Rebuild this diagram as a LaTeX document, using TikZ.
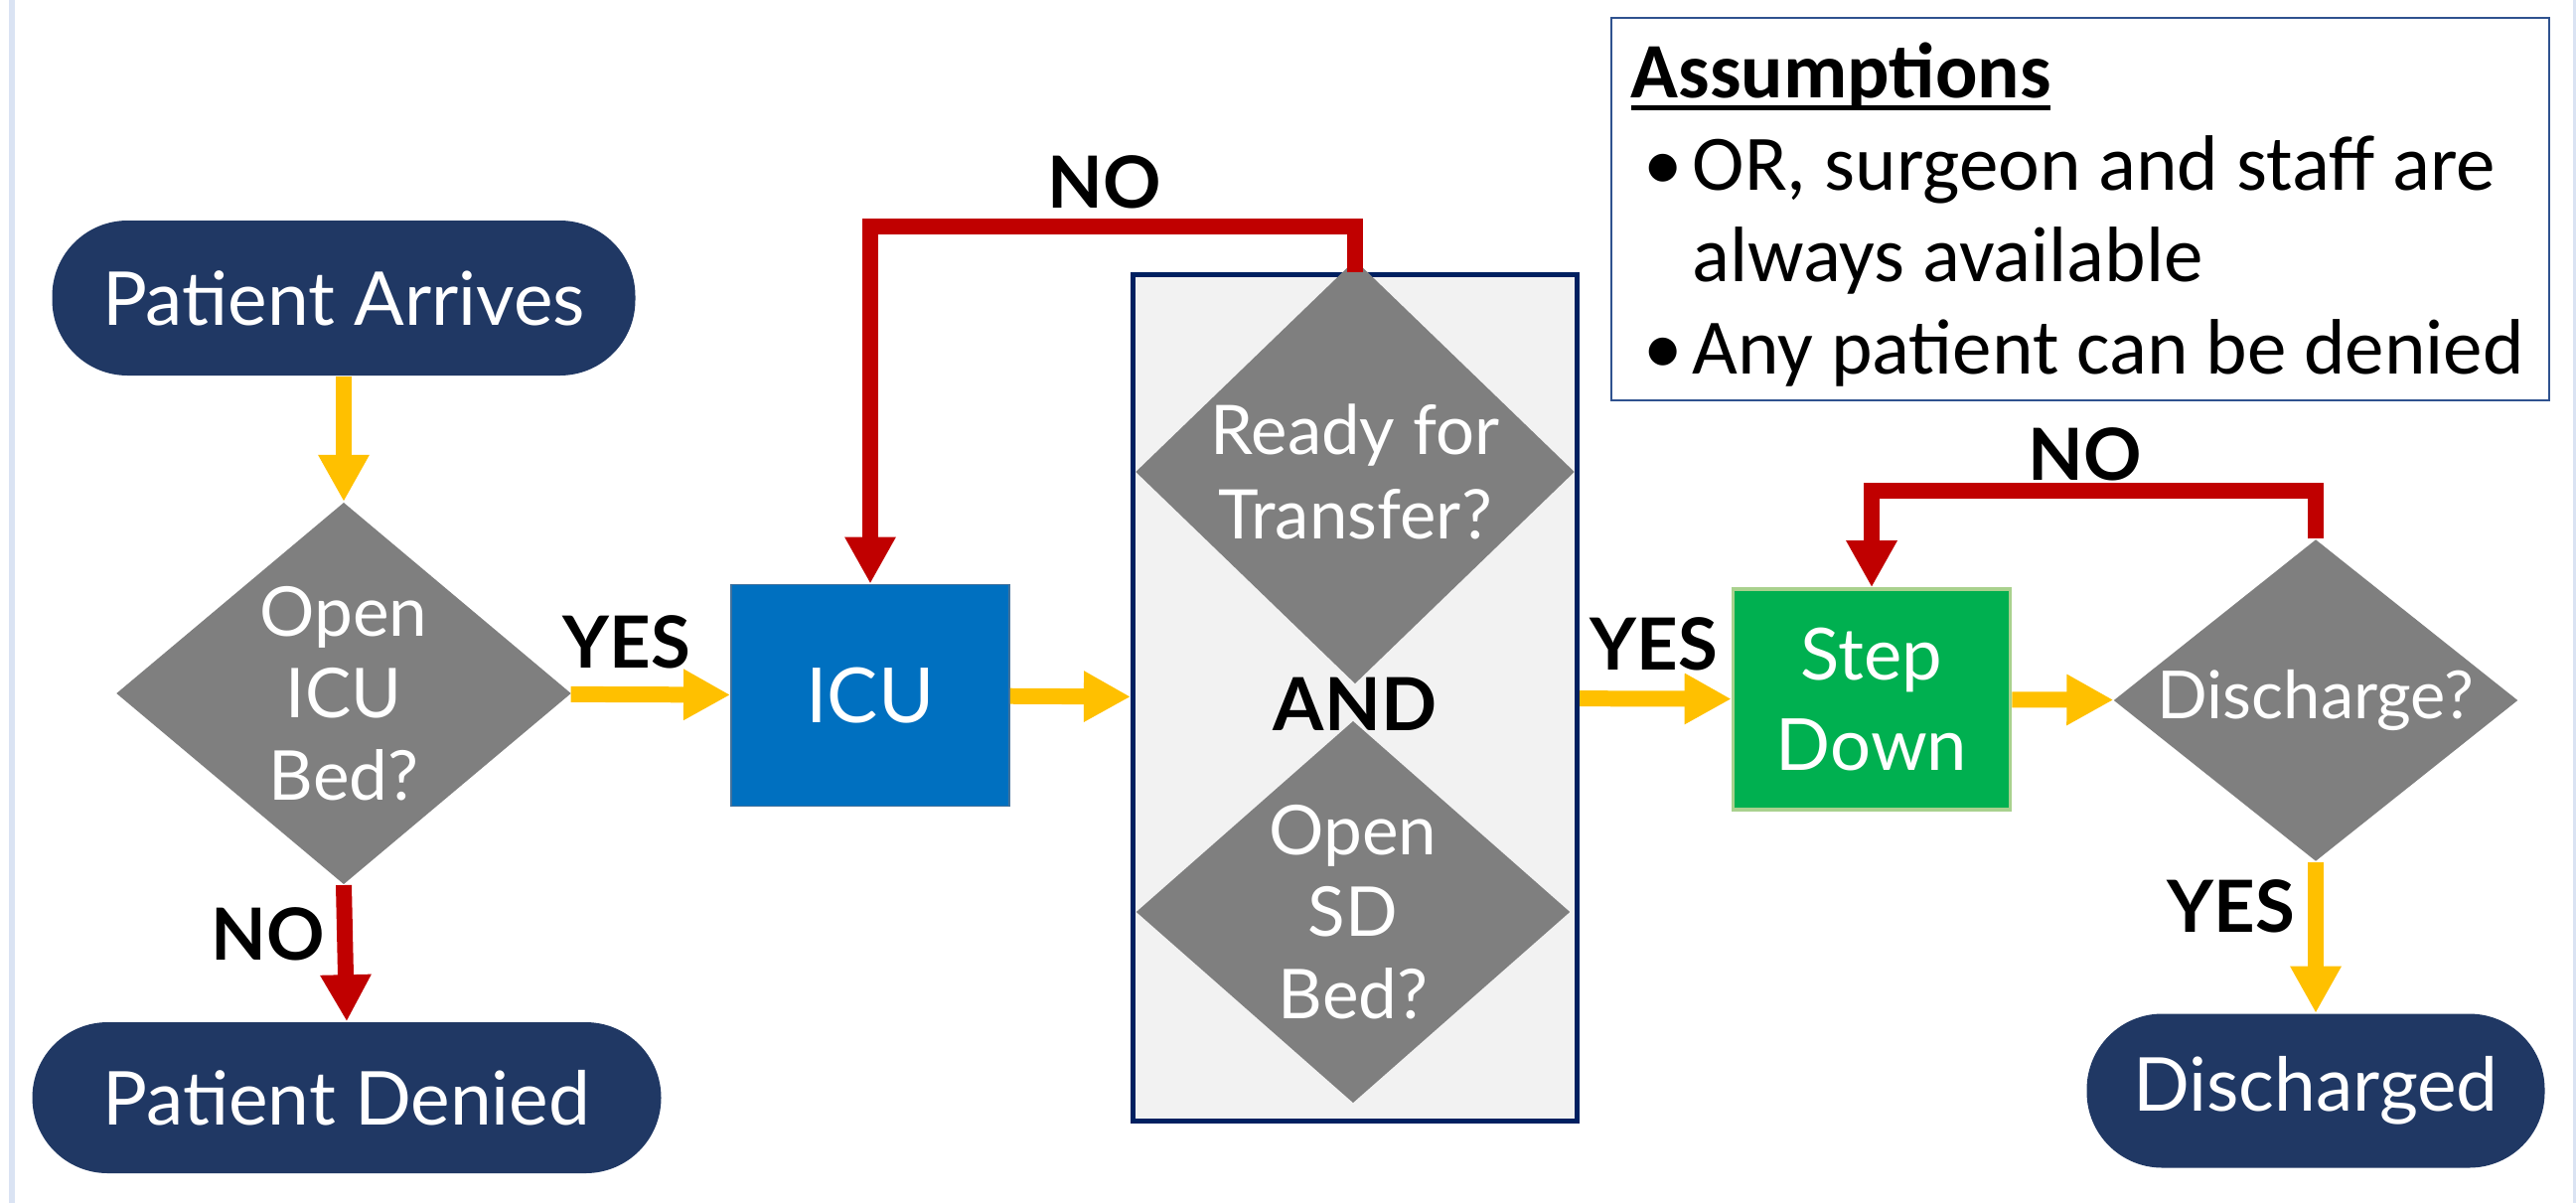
\documentclass[tikz,border=0pt]{standalone}
\usepackage{fontspec}
\setmainfont{Lato}
\newfontfamily\notefont{Carlito}
\usetikzlibrary{shapes.geometric,arrows.meta}
\definecolor{navy}{HTML}{203864}
\definecolor{boxnavy}{HTML}{002060}
\definecolor{grey}{HTML}{7F7F7F}
\definecolor{icublue}{HTML}{0070C0}
\definecolor{icuedge}{HTML}{41719C}
\definecolor{sdgreen}{HTML}{00B050}
\definecolor{sdedge}{HTML}{A9D18E}
\definecolor{gold}{HTML}{FFC000}
\definecolor{darkred}{HTML}{C00000}
\definecolor{panelgrey}{HTML}{F2F2F2}
\definecolor{noteedge}{HTML}{2F528F}
\definecolor{sideline}{HTML}{DAE3F3}
\newcommand\noteunder[1]{\setbox0\hbox{#1}\rlap{\rule[-0.12cm]{\wd0}{0.05cm}}\box0}
\tikzset{
  terminal/.style={fill=navy,text=white,rounded corners=0.76cm,inner sep=0pt,font=\fontsize{21.3}{25}\selectfont},
  decision/.style={diamond,fill=grey,text=white,inner sep=0pt,align=center,font=\fontsize{19.7}{23.5}\selectfont},
  process/.style={text=white,inner sep=0pt,align=center,font=\fontsize{21.8}{26}\selectfont},
  answer/.style={font=\fontsize{20.6}{25}\selectfont\bfseries},
  arrowline/.style={line width=4.55pt,-{Triangle[width=13.7pt,length=13.4pt]}},
  yeslink/.style={arrowline,gold},
  nolink/.style={arrowline,darkred},
}
\begin{document}
\begin{tikzpicture}
\useasboundingbox (0,0) rectangle (25.93,12.11);
\fill[sideline] (0.09,0) rectangle (0.15,12.11);
\fill[sideline] (25.90,0) rectangle (25.93,12.11);
\node[terminal,minimum width=5.87cm,minimum height=1.56cm] (arrive) at (3.46,9.11) {Patient Arrives};
\node[decision,minimum width=4.58cm,minimum height=3.75cm] (icubed) at (3.46,5.13) {Open\\ICU\\Bed?};
\node[terminal,minimum width=6.33cm,minimum height=1.52cm] (denied) at (3.49,1.06) {Patient Denied};
\node[process,fill=icublue,draw=icuedge,line width=0.5pt,minimum width=2.80cm,minimum height=2.23cm] (icu) at (8.76,5.11) {ICU};
\node[draw=boxnavy,fill=panelgrey,line width=1.42pt,minimum width=4.47cm,minimum height=8.52cm] (pair) at (13.64,5.085) {};
\node[decision,minimum width=4.42cm,minimum height=3.88cm,font=\fontsize{19.6}{24.2}\selectfont] (ready) at (13.64,7.36) {Ready for\\Transfer?};
\node[answer,font=\fontsize{21}{25}\selectfont\bfseries] (and) at (13.64,5.02) {AND};
\node[decision,minimum width=4.37cm,minimum height=3.56cm] (sdbed) at (13.62,2.93) {Open\\SD\\Bed?};
\node[process,fill=sdgreen,draw=sdedge,line width=1pt,minimum width=2.79cm,minimum height=2.22cm,font=\fontsize{20.6}{26}\selectfont] (step) at (18.84,5.07) {Step\\Down};
\node[decision,aspect=1.26,minimum width=4.07cm,minimum height=3.24cm,font=\fontsize{19}{22}\selectfont] (disch) at (23.31,5.06) {Discharge?};
\node[terminal,minimum width=4.61cm,minimum height=1.55cm] (done) at (23.31,1.13) {Discharged};
\node[draw=noteedge,line width=0.6pt,minimum width=9.44cm,minimum height=3.85cm] (notes) at (20.94,10.005) {};
\node[anchor=west,inner sep=0pt,align=left,font=\notefont\fontsize{22.5}{26.3}\selectfont] (notetext) at (16.41,9.95) {\noteunder{\textbf{Assumptions}}\\
\hspace*{0.13cm}\makebox[0.49cm][l]{\textbullet}OR, surgeon and staff are\\
\hspace*{0.62cm}always available\\
\hspace*{0.13cm}\makebox[0.49cm][l]{\textbullet}Any patient can be denied};
\node[answer] (no1) at (2.70,2.71) {NO};
\node[answer] (yes1) at (6.31,5.65) {YES};
\node[answer] (no2) at (11.12,10.28) {NO};
\node[answer] (yes2) at (16.65,5.63) {YES};
\node[answer] (no3) at (20.99,7.54) {NO};
\node[answer] (yes3) at (22.46,2.99) {YES};
\draw[yeslink] (arrive) -- (icubed);
\draw[yeslink] (icubed) -- (icu);
\draw[nolink] (icubed.south) -- (denied.north);
\draw[yeslink] (icu) -- (pair);
\draw[nolink] (pair.north) -- ++(0,0.46) -| (icu.north);
\draw[yeslink] (pair) -- (step);
\draw[yeslink] (step) -- (disch);
\draw[nolink] (disch.north) -- ++(0,0.48) -| (step.north);
\draw[yeslink] (disch) -- (done);
\end{tikzpicture}
\end{document}
